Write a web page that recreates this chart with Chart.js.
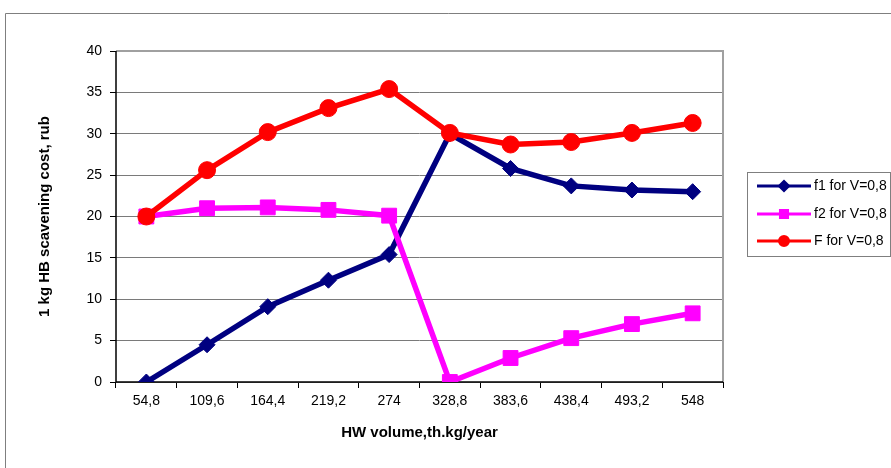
<!DOCTYPE html>
<html>
<head>
<meta charset="utf-8">
<script src="https://cdn.jsdelivr.net/npm/chart.js@4.4.1/dist/chart.umd.min.js"></script>
<style>
html,body{margin:0;padding:0;background:#fff;}
#wrap{position:relative;width:891px;height:468px;}
</style>
</head>
<body>
<div id="wrap"><canvas id="c" width="891" height="468"></canvas></div>
<script>
const categories = ['54,8','109,6','164,4','219,2','274','328,8','383,6','438,4','493,2','548'];
const f1Values = [0, 4.5, 9.1, 12.3, 15.4, 30.0, 25.8, 23.7, 23.2, 23.0];
const f2Values = [20.0, 21.0, 21.1, 20.8, 20.1, 0, 2.9, 5.3, 7.0, 8.3];
const FValues  = [20.0, 25.6, 30.2, 33.1, 35.4, 30.1, 28.7, 29.0, 30.1, 31.3];
const seriesNames = ['f1 for V=0,8', 'f2 for V=0,8', 'F for V=0,8'];
const yMin = 0, yMax = 40, yStep = 5;

const FONT = '"Liberation Sans", Arial, sans-serif';

const framePlugin = {
  id: 'frame',
  beforeDraw(chart) {
    const ctx = chart.ctx;
    ctx.save();
    ctx.strokeStyle = '#7f7f7f';
    ctx.lineWidth = 1;
    ctx.beginPath();
    ctx.moveTo(5.5, 468);
    ctx.lineTo(5.5, 13.5);
    ctx.lineTo(891, 13.5);
    ctx.stroke();
    ctx.restore();
  },
  beforeDatasetsDraw(chart) {
    const {ctx, chartArea: a} = chart;
    ctx.save();
    ctx.strokeStyle = '#a0a0a0';
    ctx.lineWidth = 2;
    ctx.beginPath();
    ctx.moveTo(a.left, a.top);
    ctx.lineTo(a.right, a.top);
    ctx.lineTo(a.right, a.bottom);
    ctx.stroke();
    ctx.strokeStyle = '#000';
    ctx.lineWidth = 1.5;
    ctx.beginPath();
    ctx.moveTo(a.left, a.top);
    ctx.lineTo(a.left, a.bottom);
    ctx.lineTo(a.right, a.bottom);
    ctx.stroke();
    ctx.restore();
  }
};

const legendPlugin = {
  id: 'customLegend',
  afterDraw(chart) {
    const ctx = chart.ctx;
    const bx = 747.5, by = 172.5, bw = 143, bh = 84;
    ctx.save();
    ctx.fillStyle = '#fff';
    ctx.fillRect(bx, by, bw, bh);
    ctx.strokeStyle = '#7f7f7f';
    ctx.lineWidth = 1;
    ctx.strokeRect(bx, by, bw, bh);
    const ys = [186, 214, 241];
    const sizes = [4.5, 5, 4.5];
    chart.data.datasets.forEach((ds, i) => {
      const y = ys[i];
      ctx.strokeStyle = ds.borderColor;
      ctx.lineWidth = 3;
      ctx.beginPath();
      ctx.moveTo(757, y);
      ctx.lineTo(811, y);
      ctx.stroke();
      ctx.fillStyle = ds.pointBackgroundColor;
      ctx.strokeStyle = ds.pointBorderColor;
      Chart.helpers.drawPoint(ctx, {pointStyle: ds.pointStyle, radius: sizes[i], borderWidth: 1, rotation: 0}, 784, y);
      ctx.fillStyle = '#000';
      ctx.font = '14px ' + FONT;
      ctx.textAlign = 'left';
      ctx.textBaseline = 'middle';
      ctx.fillText(ds.label, 814, y + 0.5);
    });
    ctx.restore();
  }
};

new Chart(document.getElementById('c'), {
  type: 'line',
  data: {
    labels: categories,
    datasets: [
      {label: seriesNames[0], data: f1Values, borderColor: '#000080', backgroundColor: '#000080',
       pointBackgroundColor: '#000080', pointBorderColor: '#000080', pointStyle: 'rectRot',
       pointRadius: 8, borderWidth: 5.5, pointBorderWidth: 1, tension: 0, order: 3},
      {label: seriesNames[1], data: f2Values, borderColor: '#FF00FF', backgroundColor: '#FF00FF',
       pointBackgroundColor: '#FF00FF', pointBorderColor: '#FF00FF', pointStyle: 'rect',
       pointRadius: 10.5, borderWidth: 5.5, pointBorderWidth: 1, tension: 0, order: 2},
      {label: seriesNames[2], data: FValues, borderColor: '#FF0000', backgroundColor: '#FF0000',
       pointBackgroundColor: '#FF0000', pointBorderColor: '#FF0000', pointStyle: 'circle',
       pointRadius: 8.5, borderWidth: 5.5, pointBorderWidth: 1, tension: 0, order: 1}
    ]
  },
  options: {
    responsive: false,
    animation: false,
    devicePixelRatio: 1,
    layout: {padding: {left: 0, top: 51, right: 168, bottom: 0}},
    plugins: {legend: {display: false}, tooltip: {enabled: false}},
    elements: {line: {borderCapStyle: 'butt', borderJoinStyle: 'miter'}},
    scales: {
      x: {
        offset: true,
        grid: {offset: true, drawOnChartArea: false, drawTicks: true, tickLength: 6, color: '#000', lineWidth: 1},
        border: {display: false},
        ticks: {color: '#000', font: {family: FONT, size: 14}, padding: 5, maxRotation: 0, autoSkip: false},
        title: {display: true, text: 'HW volume,th.kg/year', color: '#000',
                font: {family: FONT, size: 15, weight: 'bold'}, padding: {top: 0, bottom: 26}},
        afterFit(scale) { scale.height = 86; }
      },
      y: {
        min: yMin, max: yMax,
        grid: {color: '#7a7a7a', lineWidth: 1, tickLength: 6, tickColor: '#000', drawTicks: true},
        border: {display: false},
        ticks: {stepSize: yStep, color: '#000', font: {family: FONT, size: 14}, padding: 8},
        title: {display: true, text: '1 kg HB scavening cost, rub', color: '#000',
                font: {family: FONT, size: 15, weight: 'bold'}, padding: {top: 36, bottom: 0}},
        afterFit(scale) { scale.width = 116; }
      }
    }
  },
  plugins: [framePlugin, legendPlugin]
});
</script>
</body>
</html>
